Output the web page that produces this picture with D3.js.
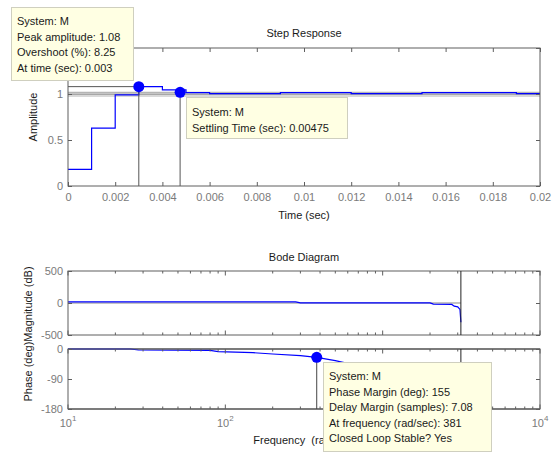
<!DOCTYPE html>
<html><head><meta charset="utf-8">
<script src="https://cdn.jsdelivr.net/npm/d3@7"></script>
<style>
body{margin:0;background:#fff}
svg{display:block;font-family:"Liberation Sans",Arial,sans-serif}
</style></head><body>
<script>
// ---- data ----
const stepTime = [0,0.001,0.002,0.003,0.004,0.005,0.006,0.007,0.008,0.009,0.010,0.011,0.012,0.013,0.014,0.015,0.016,0.017,0.018,0.019,0.020];
const stepAmp  = [0.18,0.63,0.99,1.08,1.045,1.015,1.005,1.005,1.005,1.015,1.015,1.015,1.005,1.005,1.005,1.015,1.015,1.015,1.015,1.005,1.005];
const stepXTicks = [0,0.002,0.004,0.006,0.008,0.01,0.012,0.014,0.016,0.018,0.02];
const stepXTickLabels = ["0","0.002","0.004","0.006","0.008","0.01","0.012","0.014","0.016","0.018","0.02"];
const stepYTicks = [0,0.5,1,1.5];
const stepYTickLabels = ["0","0.5","1",""];   // 1.5 label is hidden under the data tip in the reference
const finalValue = 0.9977;
const settleBand = [0.978,1.018];
const peakPoint = {t:0.003, a:1.08};
const settlePoint = {t:0.00475, a:1.018};

const magFreq = [10,280,300,2000,2100,2750,2850,3000,3100,3141.59];
const magDB   = [18,18,2,2,-18,-22,-50,-60,-100,-300];
const phaseFreq = [10,25,28,80,90,150,200,300,381,500,560,700,1000,2000,3141.59];
const phaseDeg  = [0,0,-3,-4,-8,-11,-15,-20,-25,-35,-40,-50,-70,-120,-180];
const magTicks = [-500,0,500];
const magTickLabels = ["-500","0","500"];
const phaseTicks = [-180,-90,0];
const phaseTickLabels = ["-180","-90","0"];
const freqDecades = [10,100,1000,10000];
const freqExp = ["1","2","","4"];   // 10^3 label is hidden under the data tip in the reference
const marginPoint = {f:381, p:-25};
const nyquistFreq = 3141.59;

const tip1 = ["System: M","Peak amplitude: 1.08","Overshoot (%): 8.25","At time (sec): 0.003"];
const tip2 = ["System: M","Settling Time (sec): 0.00475"];
const tip3 = ["System: M","Phase Margin (deg): 155","Delay Margin (samples): 7.08","At frequency (rad/sec): 381","Closed Loop Stable? Yes"];

// ---- drawing ----
const W=554,H=456;
const svg=d3.select("body").append("svg").attr("width",W).attr("height",H);
const L=68,R=540;
const axCol="#5e5e5e", lblCol="#7a7a7a", blue="#0000ff";

const xS=d3.scaleLinear([0,0.02],[L,R]);
const yS=d3.scaleLinear([0,1.5],[186,48]);
const xF=d3.scaleLog([10,1e4],[L,R]);
const yM=d3.scaleLinear([-500,500],[335,271]);
const yP=d3.scaleLinear([-180,0],[409,349]);

function frame(g,x0,x1,y0,y1){
  g.append("rect").attr("x",x0).attr("y",y1).attr("width",x1-x0).attr("height",y0-y1)
   .attr("fill","none").attr("stroke",axCol).attr("stroke-width",1);
}
function styleAxis(a){
  a.select(".domain").remove();
  a.selectAll(".tick line").attr("stroke",axCol);
  a.selectAll(".tick text").attr("fill",lblCol).attr("font-size",11).attr("font-family","Liberation Sans, Arial, sans-serif");
}

// ===== Step response =====
const gS=svg.append("g");
settleBand.forEach(v=>gS.append("line").attr("x1",L).attr("x2",R).attr("y1",yS(v)).attr("y2",yS(v))
  .attr("stroke","#b4b4b4").attr("stroke-width",1.2));
gS.append("line").attr("x1",L).attr("x2",R).attr("y1",yS(finalValue)).attr("y2",yS(finalValue))
  .attr("stroke","#8a8a8a").attr("stroke-width",1.2);
gS.append("path").datum(stepTime.map((t,i)=>[t,stepAmp[i]]))
  .attr("d",d3.line().x(d=>xS(d[0])).y(d=>yS(d[1])).curve(d3.curveStepAfter))
  .attr("fill","none").attr("stroke",blue).attr("stroke-width",1.2);
gS.append("line").attr("x1",L).attr("x2",xS(peakPoint.t)).attr("y1",yS(peakPoint.a)).attr("y2",yS(peakPoint.a)).attr("stroke","#555");
gS.append("line").attr("x1",xS(peakPoint.t)).attr("x2",xS(peakPoint.t)).attr("y1",yS(peakPoint.a)).attr("y2",yS(0)).attr("stroke","#555");
gS.append("line").attr("x1",xS(settlePoint.t)).attr("x2",xS(settlePoint.t)).attr("y1",yS(settlePoint.a)).attr("y2",yS(0)).attr("stroke","#555");

frame(gS,L,R,yS(0),yS(1.5));
styleAxis(gS.append("g").attr("transform",`translate(0,${yS(0)})`)
  .call(d3.axisBottom(xS).tickValues(stepXTicks).tickFormat((d,i)=>stepXTickLabels[i]).tickSize(-4).tickPadding(7)));
styleAxis(gS.append("g").attr("transform",`translate(0,${yS(1.5)})`)
  .call(d3.axisTop(xS).tickValues(stepXTicks).tickFormat("").tickSize(-4)));
styleAxis(gS.append("g").attr("transform",`translate(${L},0)`)
  .call(d3.axisLeft(yS).tickValues(stepYTicks).tickFormat((d,i)=>stepYTickLabels[i]).tickSize(-4).tickPadding(5)));
styleAxis(gS.append("g").attr("transform",`translate(${R},0)`)
  .call(d3.axisRight(yS).tickValues(stepYTicks).tickFormat("").tickSize(-4)));

gS.selectAll("circle.m").data([peakPoint,settlePoint]).join("circle")
  .attr("cx",d=>xS(d.t)).attr("cy",d=>yS(d.a)).attr("r",5.5).attr("fill",blue);

svg.append("text").attr("x",304).attr("y",37).attr("text-anchor","middle").attr("font-size",11).attr("fill","#1a1a1a").text("Step Response");
svg.append("text").attr("x",304).attr("y",219).attr("text-anchor","middle").attr("font-size",11).attr("fill","#1a1a1a").text("Time (sec)");
svg.append("text").attr("transform","translate(37,117) rotate(-90)").attr("text-anchor","middle").attr("font-size",11).attr("fill","#1a1a1a").text("Amplitude");

// ===== Bode =====
const gB=svg.append("g");
const minorF=[];
[10,100,1000].forEach(d=>{for(let k=2;k<=9;k++) minorF.push(d*k);});
function logTicks(g,y,dir){
  g.selectAll(null).data(minorF).join("line").attr("x1",d=>xF(d)).attr("x2",d=>xF(d))
    .attr("y1",y).attr("y2",y+dir*2.5).attr("stroke",axCol);
  g.selectAll(null).data(freqDecades).join("line").attr("x1",d=>xF(d)).attr("x2",d=>xF(d))
    .attr("y1",y).attr("y2",y+dir*4.5).attr("stroke",axCol);
}
gB.append("line").attr("x1",L).attr("x2",xF(nyquistFreq)).attr("y1",yM(0)).attr("y2",yM(0)).attr("stroke","#b0b0b0").attr("stroke-width",1.5);
gB.append("path").datum(magFreq.map((f,i)=>[f,magDB[i]]))
  .attr("d",d3.line().x(d=>xF(d[0])).y(d=>yM(d[1])))
  .attr("fill","none").attr("stroke",blue).attr("stroke-width",1.2);
frame(gB,L,R,yM(-500),yM(500));
logTicks(gB,yM(500),1); logTicks(gB,yM(-500),-1);
styleAxis(gB.append("g").attr("transform",`translate(${L},0)`)
  .call(d3.axisLeft(yM).tickValues(magTicks).tickFormat((d,i)=>magTickLabels[i]).tickSize(-4).tickPadding(5)));
styleAxis(gB.append("g").attr("transform",`translate(${R},0)`)
  .call(d3.axisRight(yM).tickValues(magTicks).tickFormat("").tickSize(-4)));

gB.append("line").attr("x1",L).attr("x2",R).attr("y1",yP(-180)).attr("y2",yP(-180)).attr("stroke","#9a9a9a").attr("stroke-width",2);
gB.append("line").attr("x1",L).attr("x2",R).attr("y1",yP(0)).attr("y2",yP(0)).attr("stroke","#777").attr("stroke-width",1.6);
gB.append("path").datum(phaseFreq.map((f,i)=>[f,phaseDeg[i]]))
  .attr("d",d3.line().x(d=>xF(d[0])).y(d=>yP(d[1])))
  .attr("fill","none").attr("stroke",blue).attr("stroke-width",1.2);
frame(gB,L,R,yP(-180),yP(0));
logTicks(gB,yP(0),1); logTicks(gB,yP(-180),-1);
styleAxis(gB.append("g").attr("transform",`translate(${L},0)`)
  .call(d3.axisLeft(yP).tickValues(phaseTicks).tickFormat((d,i)=>phaseTickLabels[i]).tickSize(-4).tickPadding(5)));
styleAxis(gB.append("g").attr("transform",`translate(${R},0)`)
  .call(d3.axisRight(yP).tickValues(phaseTicks).tickFormat("").tickSize(-4)));

[[yM(500),yM(-500)],[yP(0),yP(-180)]].forEach(([a,b])=>
  gB.append("line").attr("x1",xF(nyquistFreq)).attr("x2",xF(nyquistFreq)).attr("y1",a).attr("y2",b).attr("stroke","#222").attr("stroke-width",1));
gB.append("line").attr("x1",xF(marginPoint.f)).attr("x2",xF(marginPoint.f)).attr("y1",yP(marginPoint.p)).attr("y2",yP(-180)).attr("stroke","#444");
gB.append("circle").attr("cx",xF(marginPoint.f)).attr("cy",yP(marginPoint.p)).attr("r",5.5).attr("fill",blue);

const fl=gB.selectAll("text.fl").data(freqDecades.filter((d,i)=>freqExp[i]!=="")).join("text").attr("class","fl")
  .attr("x",d=>xF(d)).attr("y",427).attr("text-anchor","middle").attr("font-size",11).attr("fill",lblCol);
fl.append("tspan").text("10");
fl.append("tspan").attr("dy",-6).attr("font-size",8).text(d=>freqExp[freqDecades.indexOf(d)]);

svg.append("text").attr("x",304).attr("y",261).attr("text-anchor","middle").attr("font-size",11).attr("fill","#1a1a1a").text("Bode Diagram");
svg.append("text").attr("x",304).attr("y",444).attr("text-anchor","middle").attr("font-size",11).attr("fill","#1a1a1a").attr("xml:space","preserve").style("white-space","pre").text("Frequency  (rad/sec)");
svg.append("text").attr("transform","translate(32,334) rotate(-90)").attr("text-anchor","middle").attr("font-size",11).attr("fill","#1a1a1a").text("Phase (deg)Magnitude (dB)");

// ===== tooltips =====
function tip(x,y,w,h,lines,ty,dy){
  const g=svg.append("g");
  g.append("rect").attr("x",x+0.5).attr("y",y+0.5).attr("width",w).attr("height",h)
    .attr("fill","#ffffe3").attr("stroke","#cfcfbf");
  lines.forEach((s,i)=>g.append("text").attr("x",x+6).attr("y",ty+i*dy).attr("font-size",11).attr("fill","#1a1a1a").text(s));
}
tip(11,7,122,73,tip1,25,15.7);
tip(186,97,161,41,tip2,116,16);
tip(323,362,168,89,tip3,380,15.5);
</script>
</body></html>
